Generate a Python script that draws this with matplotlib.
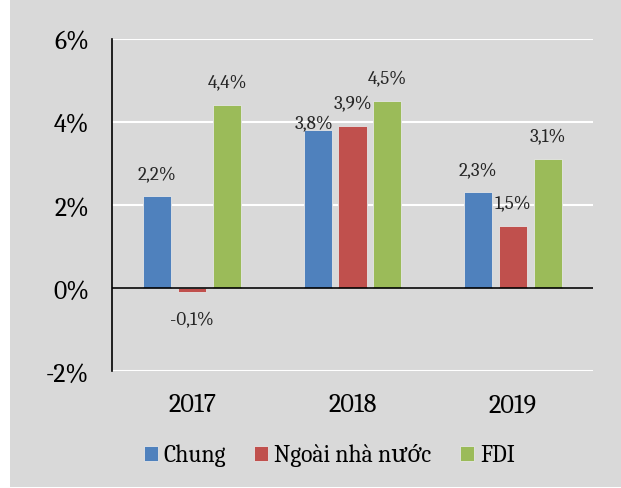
import matplotlib.pyplot as plt
import numpy as np
from matplotlib.patches import Rectangle

years = ['2017', '2018', '2019']
series = ['Chung', 'Ngoài nhà nước', 'FDI']
chung = [2.2, 3.8, 2.3]
ngoai = [-0.1, 3.9, 1.5]
fdi = [4.4, 4.5, 3.1]
colors = ['#4f81bd', '#c0504d', '#9bbb59']

plt.rcParams['font.family'] = ['Caladea', 'Noto Serif', 'DejaVu Serif']

fig = plt.figure(figsize=(6.21, 4.89), dpi=100, facecolor='white')
# grey chart area background
fig.patches.append(Rectangle((10 / 621, 1 / 489), 611 / 621, 488 / 489,
                             transform=fig.transFigure, facecolor='#d9d9d9',
                             edgecolor='none', zorder=-10))
ax = fig.add_axes([112 / 621, 1 - 372 / 489, 481 / 621, (372 - 39.5) / 489])
ax.set_facecolor('#d9d9d9')

x = np.arange(len(years))
w = 0.175
step = 0.218
for i, (vals, c, name) in enumerate(zip([chung, ngoai, fdi], colors, series)):
    xs = x + (i - 1) * step
    ax.bar(xs, vals, w, color=c, edgecolor='#e6e6e6', linewidth=0.6,
           label=name, zorder=3)
    for xi, v in zip(xs, vals):
        txt = f'{v:.1f}%'.replace('.', ',')
        if v < 0:
            off = (0, -28)
        elif name == 'Chung' and 0.5 < xi < 1.5:
            off = (-4, 6)
        else:
            off = (0, 22)
        ax.annotate(txt, (xi, v), xytext=off, textcoords='offset pixels',
                    ha='center', va='center', fontsize=13.7, color='#262626')

ax.set_xlim(-0.5, 2.5)
ax.set_ylim(-2, 6)
ax.set_yticks([-2, 0, 2, 4, 6])
ax.set_yticklabels(['-2%', '0%', '2%', '4%', '6%'], fontsize=18.5)
ax.set_xticks(x)
ax.set_xticklabels(years, fontsize=19)
ax.tick_params(axis='y', length=0, pad=16.5)
ax.tick_params(axis='x', length=0, pad=15)
ax.grid(axis='y', color='white', linewidth=1.5, zorder=0)
ax.axhline(0, color='black', linewidth=1.2, zorder=4)
for s in ['top', 'right', 'bottom']:
    ax.spines[s].set_visible(False)
ax.spines['left'].set_color('black')
ax.spines['left'].set_linewidth(1.2)
ax.spines['left'].set_zorder(5)

fig.legend(loc='center', bbox_to_anchor=(0.53, 1 - 456 / 489), ncol=3,
           frameon=False, fontsize=17,
           handlelength=0.6, handleheight=0.6,
           handletextpad=0.25, columnspacing=1.2)

fig.savefig('out.png', dpi=100, facecolor='white')
